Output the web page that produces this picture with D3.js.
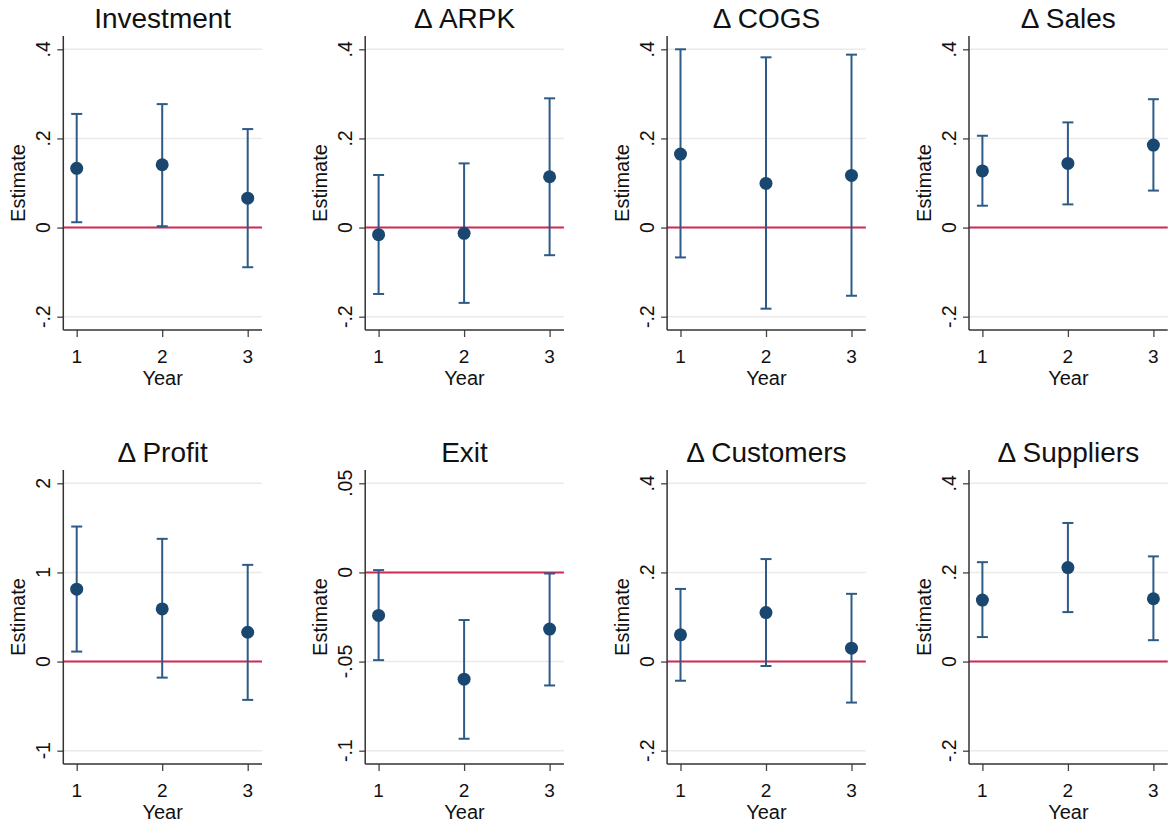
<!DOCTYPE html>
<html>
<head>
<meta charset="utf-8">
<script src="https://cdn.jsdelivr.net/npm/d3@7"></script>
<style>
  html, body { margin: 0; padding: 0; background: #fff; }
  svg { display: block; }
  text { font-family: "Liberation Sans", Arial, sans-serif; fill: #111; }
</style>
</head>
<body>
<script>
// panel titles, in reading order (4 columns x 2 rows)
const titles = ['Investment', 'Δ ARPK', 'Δ COGS', 'Δ Sales',
                'Δ Profit', 'Exit', 'Δ Customers', 'Δ Suppliers'];
const years = [1, 2, 3];

// point estimates by panel and year
const estimates = [
    [0.133, 0.141, 0.066],
    [-0.016, -0.013, 0.114],
    [0.165, 0.099, 0.117],
    [0.127, 0.144, 0.185],
    [0.812, 0.591, 0.329],
    [-0.0241, -0.0599, -0.0318],
    [0.060, 0.110, 0.030],
    [0.138, 0.211, 0.141]
];
// confidence interval bounds
const lower = [
    [0.012, 0.003, -0.089],
    [-0.149, -0.169, -0.062],
    [-0.067, -0.182, -0.153],
    [0.049, 0.052, 0.083],
    [0.112, -0.180, -0.430],
    [-0.0492, -0.0933, -0.0634],
    [-0.043, -0.010, -0.092],
    [0.055, 0.111, 0.048]
];
const upper = [
    [0.255, 0.277, 0.221],
    [0.118, 0.144, 0.290],
    [0.400, 0.382, 0.388],
    [0.206, 0.236, 0.288],
    [1.515, 1.377, 1.085],
    [0.0013, -0.0267, -0.0006],
    [0.163, 0.230, 0.152],
    [0.223, 0.311, 0.236]
];
// y ticks and their labels (Stata style)
const yTicks = [
    [-0.2, 0, 0.2, 0.4],
    [-0.2, 0, 0.2, 0.4],
    [-0.2, 0, 0.2, 0.4],
    [-0.2, 0, 0.2, 0.4],
    [-1, 0, 1, 2],
    [-0.1, -0.05, 0, 0.05],
    [-0.2, 0, 0.2, 0.4],
    [-0.2, 0, 0.2, 0.4]
];
const yTickLabels = [
    ['-.2', '0', '.2', '.4'],
    ['-.2', '0', '.2', '.4'],
    ['-.2', '0', '.2', '.4'],
    ['-.2', '0', '.2', '.4'],
    ['-1', '0', '1', '2'],
    ['-.1', '-.05', '0', '.05'],
    ['-.2', '0', '.2', '.4'],
    ['-.2', '0', '.2', '.4']
];

const width = 1171, height = 824;
const cellW = 301.9, cellH = 434;
// layout inside one cell
const axisX = 63.3, plotRight = 262, plotTop = 36, plotBottom = 330;
const tickTop = 49.3, tickBottom = 316.7;
const yearLeft = 76.7, yearRight = 247.7;

const navy = '#1a476f';
const barColor = '#2d5a86';
const red = '#cf2a55';

const svg = d3.select('body').append('svg')
    .attr('width', width)
    .attr('height', height);

titles.forEach((title, i) => {
    const col = i % 4, row = Math.floor(i / 4);
    const g = svg.append('g')
        .attr('transform', `translate(${col * cellW}, ${row * cellH})`);

    const ticks = yTicks[i];
    const yScale = d3.scaleLinear()
        .domain([ticks[0], ticks[ticks.length - 1]])
        .range([tickBottom, tickTop]);
    const xScale = d3.scaleLinear()
        .domain([1, 3])
        .range([yearLeft, yearRight]);

    // 网格线
    g.selectAll('.grid')
        .data(ticks)
        .enter().append('line')
        .attr('x1', axisX).attr('x2', plotRight)
        .attr('y1', d => yScale(d)).attr('y2', d => yScale(d))
        .attr('stroke', '#eaeaea')
        .attr('stroke-width', 1.5);

    // zero reference line
    g.append('line')
        .attr('x1', axisX).attr('x2', plotRight)
        .attr('y1', yScale(0)).attr('y2', yScale(0))
        .attr('stroke', red)
        .attr('stroke-width', 2);

    // y axis
    const yAxis = d3.axisLeft(yScale)
        .tickValues(ticks)
        .tickSize(6)
        .tickFormat('');
    const ya = g.append('g')
        .attr('transform', `translate(${axisX},0)`)
        .call(yAxis);
    ya.select('.domain').remove();
    ya.selectAll('.tick line').attr('stroke', '#444').attr('stroke-width', 1.3);
    g.append('line')
        .attr('x1', axisX).attr('x2', axisX)
        .attr('y1', plotTop).attr('y2', plotBottom)
        .attr('stroke', '#333').attr('stroke-width', 1.5);

    g.selectAll('.ylab')
        .data(ticks)
        .enter().append('text')
        .attr('transform', d => `translate(50,${yScale(d)}) rotate(-90)`)
        .attr('text-anchor', 'middle')
        .style('font-size', '19.5px')
        .text((d, j) => yTickLabels[i][j]);

    // x axis
    const xAxis = d3.axisBottom(xScale)
        .tickValues(years)
        .tickSize(7)
        .tickFormat('');
    const xa = g.append('g')
        .attr('transform', `translate(0,${plotBottom})`)
        .call(xAxis);
    xa.select('.domain').remove();
    xa.selectAll('.tick line').attr('stroke', '#444').attr('stroke-width', 1.3);
    g.append('line')
        .attr('x1', axisX).attr('x2', plotRight)
        .attr('y1', plotBottom).attr('y2', plotBottom)
        .attr('stroke', '#333').attr('stroke-width', 1.5);

    g.selectAll('.xlab')
        .data(years)
        .enter().append('text')
        .attr('x', d => xScale(d))
        .attr('y', 362.5)
        .attr('text-anchor', 'middle')
        .style('font-size', '19px')
        .text(d => d);

    // axis titles
    g.append('text')
        .attr('x', (axisX + plotRight) / 2)
        .attr('y', 384.5)
        .attr('text-anchor', 'middle')
        .style('font-size', '20px')
        .text('Year');
    g.append('text')
        .attr('transform', `translate(25,${(plotTop + plotBottom) / 2}) rotate(-90)`)
        .attr('text-anchor', 'middle')
        .style('font-size', '20px')
        .text('Estimate');

    // panel title
    g.append('text')
        .attr('x', (axisX + plotRight) / 2)
        .attr('y', 27.5)
        .attr('text-anchor', 'middle')
        .style('font-size', '28px')
        .text(title);

    // error bars with caps
    const capW = 5.5;
    const bars = g.selectAll('.bar')
        .data(years)
        .enter().append('g');
    bars.append('line')
        .attr('x1', d => xScale(d)).attr('x2', d => xScale(d))
        .attr('y1', (d, j) => yScale(lower[i][j]))
        .attr('y2', (d, j) => yScale(upper[i][j]))
        .attr('stroke', barColor).attr('stroke-width', 2);
    bars.append('line')
        .attr('x1', d => xScale(d) - capW).attr('x2', d => xScale(d) + capW)
        .attr('y1', (d, j) => yScale(lower[i][j]))
        .attr('y2', (d, j) => yScale(lower[i][j]))
        .attr('stroke', barColor).attr('stroke-width', 2);
    bars.append('line')
        .attr('x1', d => xScale(d) - capW).attr('x2', d => xScale(d) + capW)
        .attr('y1', (d, j) => yScale(upper[i][j]))
        .attr('y2', (d, j) => yScale(upper[i][j]))
        .attr('stroke', barColor).attr('stroke-width', 2);

    // 点估计
    g.selectAll('.dot')
        .data(years)
        .enter().append('circle')
        .attr('cx', d => xScale(d))
        .attr('cy', (d, j) => yScale(estimates[i][j]))
        .attr('r', 6.5)
        .attr('fill', navy);
});
</script>
</body>
</html>
